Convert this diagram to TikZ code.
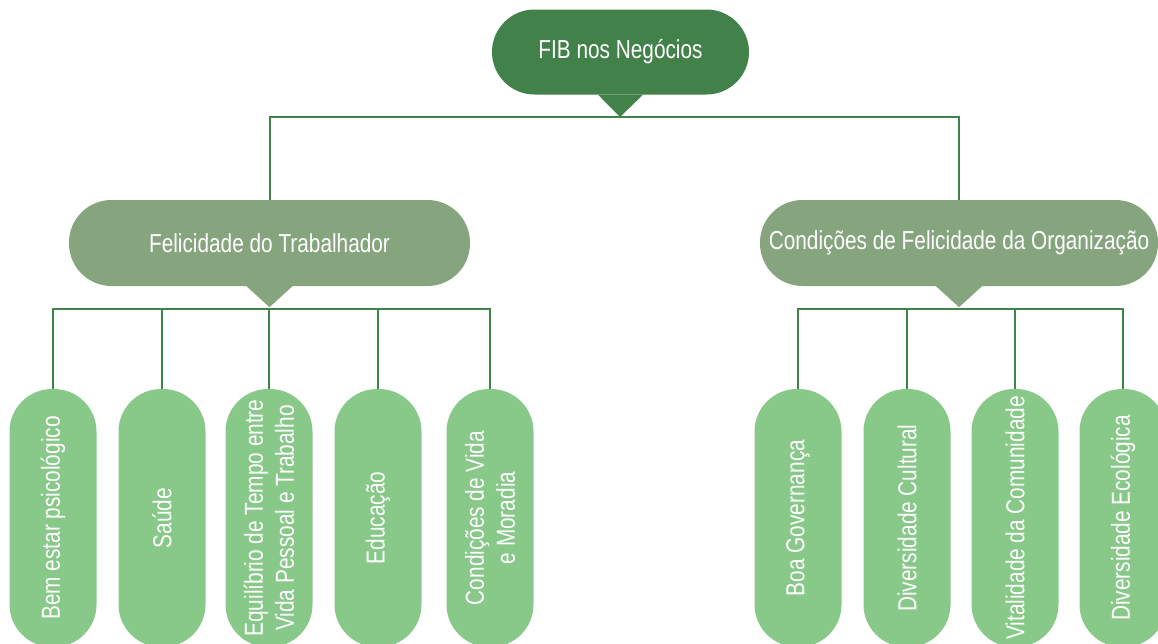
\documentclass[tikz,border=0pt]{standalone}
\usepackage{fontspec}
\setmainfont{Liberation Sans}[FakeStretch=0.8]
\definecolor{topc}{HTML}{42824A}
\definecolor{midc}{HTML}{86A57F}
\definecolor{botc}{HTML}{88C98A}
\definecolor{linec}{HTML}{3F8448}
\begin{document}
\begin{tikzpicture}[x=1pt,y=-1pt,
  pill/.style={rounded corners=42.5pt, inner sep=0pt, text=white, align=center,
    font=\fontsize{26}{31}\selectfont},
  toppill/.style={pill, fill=topc, minimum width=257pt, minimum height=85pt},
  midpill/.style={pill, fill=midc, minimum height=86pt},
  botpill/.style={pill, fill=botc, rotate=90, minimum width=258pt, minimum height=87pt},
  conn/.style={draw=linec, line width=2pt}]
\clip (0,0) rectangle (1158,643);
\fill[white] (0,0) rectangle (1158,643);
% coordinates for junctions
\coordinate (tA) at (620,117);
\coordinate (mA) at (269,309);
\coordinate (mB) at (960,309);
% nodes
\node[toppill] (t) at (620.5,52) {FIB nos Negócios};
\node[midpill, minimum width=401pt] (m1) at (269.5,243) {Felicidade do Trabalhador};
\node[midpill, minimum width=398pt] (m2) at (959,243) {Condições de Felicidade da Organização};
\node[botpill] (b1) at (53,518) {Bem estar psicológico};
\node[botpill] (b2) at (162,518) {Saúde};
\node[botpill] (b3) at (269,518) {Equilíbrio de Tempo entre\\Vida Pessoal e Trabalho};
\node[botpill] (b4) at (378,518) {Educação};
\node[botpill] (b5) at (490,518) {Condições de Vida\\e Moradia};
\node[botpill] (c1) at (798,518) {Boa Governança};
\node[botpill] (c2) at (907,518) {Diversidade Cultural};
\node[botpill] (c3) at (1015,518) {Vitalidade da Comunidade};
\node[botpill] (c4) at (1123,518) {Diversidade Ecológica};
% pointers
\fill[topc] ([xshift=-22.5pt]t.south) -- ([xshift=22.5pt]t.south) -- (tA) -- cycle;
\fill[midc] ([xshift=-23pt]m1.south) -- ([xshift=23pt]m1.south) -- ([yshift=-21pt]m1.south) -- cycle;
\fill[midc] ([xshift=-23pt]m2.south) -- ([xshift=23pt]m2.south) -- ([yshift=-21pt]m2.south) -- cycle;
% connectors
\draw[conn] (m1.north) |- (tA) -| (m2.north);
\draw[conn] (b1.east) |- (mA) -| (b5.east);
\draw[conn] (b2.east) |- (mA);
\draw[conn] (b3.east) |- (mA);
\draw[conn] (b4.east) |- (mA);
\draw[conn] (c1.east) |- (mB) -| (c4.east);
\draw[conn] (c2.east) |- (mB);
\draw[conn] (c3.east) |- (mB);
\end{tikzpicture}
\end{document}
